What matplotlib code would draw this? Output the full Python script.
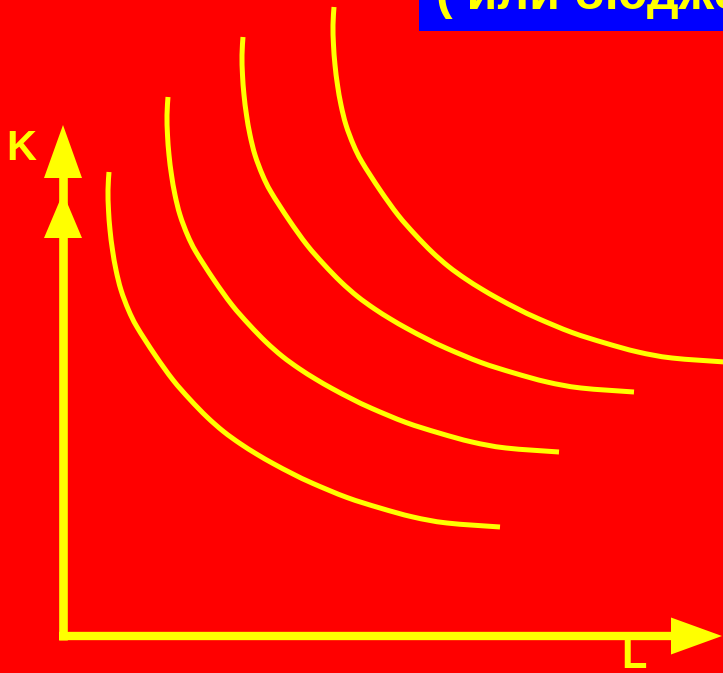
import matplotlib
matplotlib.use("Agg")
import matplotlib.pyplot as plt
from matplotlib.patches import Polygon, Rectangle, PathPatch
from matplotlib.path import Path

# ---- data (L, K); origin at the axes corner ----
iso1_L = [46, 45, 45.5, 47, 49.5, 53, 58, 65.5, 74, 92, 110, 127, 144, 160.5, 177, 193.5, 210, 230, 250, 284, 317, 350, 384, 437]
iso1_K = [464, 446, 426, 406, 386, 366, 346, 326, 309, 281, 256, 236.5, 219, 204.5, 192.5, 182, 172.5, 162, 152.5, 138.5, 128, 119, 113, 109]

iso2_L = [105, 104, 104.5, 106, 108.5, 112, 117, 124.5, 133, 151, 169, 186, 203, 219.5, 236, 252.5, 269, 289, 309, 343, 376, 409, 443, 496]
iso2_K = [539, 521, 501, 481, 461, 441, 421, 401, 384, 356, 331, 311.5, 294, 279.5, 267.5, 257, 247.5, 237, 227.5, 213.5, 203, 194, 188, 184]

iso3_L = [180, 179, 179.5, 181, 183.5, 187, 192, 199.5, 208, 226, 244, 261, 278, 294.5, 311, 327.5, 344, 364, 384, 418, 451, 484, 518, 571]
iso3_K = [599, 581, 561, 541, 521, 501, 481, 461, 444, 416, 391, 371.5, 354, 339.5, 327.5, 317, 307.5, 297, 287.5, 273.5, 263, 254, 248, 244]

iso4_L = [271, 270, 270.5, 272, 274.5, 278, 283, 290.5, 299, 317, 335, 352, 369, 385.5, 402, 418.5, 435, 455, 475, 509, 542, 575, 609, 662]
iso4_K = [629, 611, 591, 571, 551, 531, 511, 491, 474, 446, 421, 401.5, 384, 369.5, 357.5, 347, 337.5, 327, 317.5, 303.5, 293, 284, 278, 274]

x_label = "L"
y_label = "K"
title_text = "( или бюджетные линии )"

RED = "#FF0000"
YELLOW = "#FFFF00"
BLUE = "#0000FF"


def smooth_path(xs, ys):
    """Smooth path through the read points (Catmull-Rom drawn as cubic Beziers)."""
    pts = list(zip(xs, ys))
    n = len(pts)
    verts = [pts[0]]
    codes = [Path.MOVETO]
    for i in range(n - 1):
        p0 = pts[i - 1] if i > 0 else pts[i]
        p1 = pts[i]
        p2 = pts[i + 1]
        p3 = pts[i + 2] if i + 2 < n else pts[i + 1]
        c1 = (p1[0] + (p2[0] - p0[0]) / 6.0, p1[1] + (p2[1] - p0[1]) / 6.0)
        c2 = (p2[0] - (p3[0] - p1[0]) / 6.0, p2[1] - (p3[1] - p1[1]) / 6.0)
        verts += [c1, c2, p2]
        codes += [Path.CURVE4, Path.CURVE4, Path.CURVE4]
    return Path(verts, codes)


fig = plt.figure(figsize=(7.23, 6.73), dpi=100)
fig.patch.set_facecolor(RED)
ax = fig.add_axes([0, 0, 1, 1])
ax.set_facecolor(RED)
ax.set_xlim(-63, 660)
ax.set_ylim(-37, 636)
ax.axis("off")

# isoquants
for Ls, Ks in [(iso1_L, iso1_K), (iso2_L, iso2_K), (iso3_L, iso3_K), (iso4_L, iso4_K)]:
    ax.add_patch(PathPatch(smooth_path(Ls, Ks), facecolor="none", edgecolor=YELLOW,
                           lw=3.6, capstyle="butt", joinstyle="round", zorder=3))

# axes lines
ax.plot([0, 0], [-4, 460], color=YELLOW, lw=6.2, solid_capstyle="butt", zorder=4)
ax.plot([-4, 610], [0, 0], color=YELLOW, lw=6.0, solid_capstyle="butt", zorder=4)

# arrowheads
ax.add_patch(Polygon([(0, 511), (-19, 458), (19, 458)], closed=True,
                     facecolor=YELLOW, edgecolor="none", zorder=5))
ax.add_patch(Polygon([(0, 443), (-19, 398), (19, 398)], closed=True,
                     facecolor=YELLOW, edgecolor="none", zorder=5))
ax.add_patch(Polygon([(659, 0), (608, 18.5), (608, -18.5)], closed=True,
                     facecolor=YELLOW, edgecolor="none", zorder=5))

# axis labels
ax.text(-41.5, 476, y_label, color=YELLOW, fontsize=30, fontweight="bold",
        family="Liberation Sans", ha="center", va="baseline", zorder=6)
ax.text(571, -32, x_label, color=YELLOW, fontsize=30, fontweight="bold",
        family="Liberation Sans", ha="center", va="baseline", zorder=6)

# blue title box (cut off at the top edge)
ax.add_patch(Rectangle((356, 605), 310, 40, facecolor=BLUE, edgecolor="none", zorder=6))
ax.text(373, 627, title_text, color=YELLOW, fontsize=36, fontweight="bold",
        family="Liberation Sans", ha="left", va="baseline", zorder=7)

fig.savefig("out.png", dpi=100, facecolor=RED)
